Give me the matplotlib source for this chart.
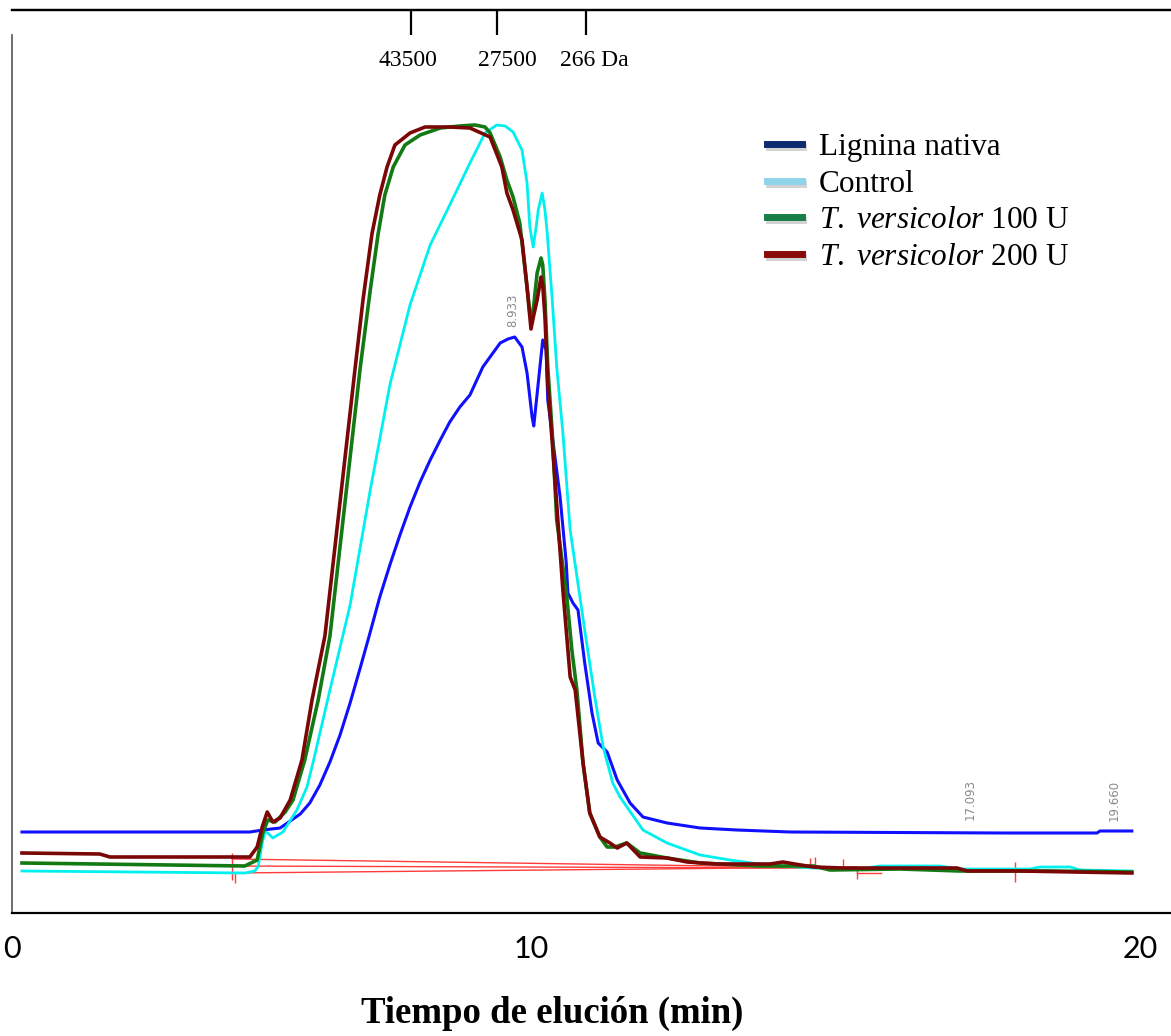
import matplotlib
matplotlib.use("Agg")
import matplotlib.pyplot as plt
from matplotlib import font_manager
from matplotlib.lines import Line2D
import matplotlib.patheffects as pe

# ---------------- data (time in min, detector signal in a.u.) ----------------
t_nativa = [0.16, 4.23, 4.46, 4.77, 4.95, 5.13, 5.30, 5.48, 5.66, 5.84, 6.02, 6.20, 6.38, 6.55,
            6.73, 6.91, 7.09, 7.27, 7.45, 7.63, 7.80, 7.98, 8.16, 8.39, 8.70, 8.84, 8.96, 9.09,
            9.18, 9.27, 9.30, 9.38, 9.46, 9.52, 9.55, 9.64, 9.77, 9.88, 9.91, 10.00, 10.09, 10.21,
            10.34, 10.45, 10.61, 10.79, 11.02, 11.25, 11.68, 12.27, 12.93, 13.88, 17.68, 19.36,
            19.41, 19.98]
y_nativa = [81, 81, 83, 85, 92, 99, 110, 128, 151, 178, 210, 245, 281, 316, 348, 378, 406, 431,
            453, 473, 491, 506, 518, 546, 570, 574, 576, 566, 540, 496, 487, 530, 573, 563, 513,
            473, 416, 350, 320, 310, 303, 250, 200, 170, 161, 133, 110, 96, 90, 85, 83, 81, 80,
            80, 82, 82]

t_control = [0.16, 4.14, 4.32, 4.38, 4.45, 4.50, 4.55, 4.64, 4.82, 5.07, 5.25, 5.36, 5.66, 6.02,
             6.38, 6.73, 7.09, 7.45, 7.80, 8.16, 8.43, 8.64, 8.79, 8.93, 9.09, 9.18, 9.23, 9.29,
             9.34, 9.38, 9.45, 9.50, 9.54, 9.63, 9.71, 9.82, 9.95, 10.21, 10.39, 10.54, 10.71,
             10.84, 11.25, 11.68, 12.27, 12.80, 13.46, 14.29, 15.13, 15.48, 16.55, 16.91, 18.16,
             18.34, 18.88, 19.05, 19.98]
y_control = [42, 40, 42, 47, 70, 81, 80, 75, 81, 103, 126, 151, 223, 308, 423, 528, 608, 668,
             708, 750, 780, 788, 787, 781, 763, 730, 686, 666, 685, 703, 720, 703, 680, 613, 546,
             480, 383, 283, 216, 166, 130, 116, 83, 70, 58, 53, 48, 45, 44, 47, 47, 44, 44, 46,
             46, 43, 42]

t_tv100 = [0.16, 4.14, 4.36, 4.46, 4.55, 4.68, 4.86, 5.00, 5.21, 5.45, 5.66, 5.93, 6.20, 6.38,
           6.52, 6.64, 6.79, 7.00, 7.27, 7.63, 7.98, 8.25, 8.43, 8.52, 8.70, 8.82, 8.93, 9.05,
           9.14, 9.23, 9.27, 9.30, 9.36, 9.43, 9.46, 9.50, 9.55, 9.63, 9.71, 9.89, 9.98, 10.07,
           10.18, 10.30, 10.48, 10.61, 10.75, 10.96, 11.20, 11.68, 12.27, 13.34, 14.29, 14.59,
           15.84, 16.91, 17.63, 18.52, 19.98]
y_tv100 = [50, 47, 53, 80, 93, 91, 101, 113, 153, 213, 277, 411, 545, 623, 679, 718, 746, 768,
           778, 785, 787, 788, 786, 780, 756, 733, 716, 690, 646, 600, 595, 608, 640, 655, 648,
           613, 546, 480, 393, 316, 263, 223, 150, 100, 76, 66, 66, 70, 60, 55, 50, 47, 47, 43,
           44, 42, 42, 42, 41]

t_tv200 = [0.16, 1.55, 1.73, 4.23, 4.36, 4.45, 4.54, 4.64, 4.77, 4.95, 5.16, 5.34, 5.57, 5.84,
           6.11, 6.25, 6.41, 6.55, 6.68, 6.82, 7.09, 7.36, 7.80, 8.16, 8.52, 8.73, 8.82, 8.93,
           9.09, 9.18, 9.25, 9.30, 9.36, 9.43, 9.46, 9.50, 9.55, 9.64, 9.82, 9.95, 10.04, 10.18,
           10.30, 10.48, 10.66, 10.79, 10.96, 11.20, 11.68, 12.04, 12.57, 13.52, 13.75, 13.96,
           14.29, 14.82, 16.86, 17.04, 17.98, 19.98]
y_tv200 = [60, 59, 56, 56, 66, 86, 101, 91, 95, 113, 153, 213, 277, 411, 545, 613, 679, 718,
           746, 768, 780, 786, 786, 785, 776, 746, 720, 703, 673, 626, 584, 598, 613, 636, 628,
           596, 530, 463, 323, 236, 223, 150, 100, 76, 70, 65, 70, 56, 55, 51, 49, 49, 51, 49,
           46, 45, 45, 42, 42, 40]

# integration baselines (start/end) and event marks (time, low, high)
baseline_t = [[3.91, 19.98], [3.93, 14.23], [3.96, 15.07], [15.07, 15.50]]
baseline_y = [[54, 41], [47, 45], [40, 46], [40, 40]]
event_t = [3.91, 3.96, 14.23, 14.32, 14.82, 15.07, 17.89]
event_lo = [33, 30, 46, 46, 44, 34, 31]
event_hi = [60, 40, 55, 56, 54, 43, 51]

# retention-time annotations
rt_labels = ["8.933", "17.093", "19.660"]
rt_t = [8.933, 17.093, 19.660]
rt_y = [603, 113, 113]

# molecular-weight marks (top axis)
mw_t = [7.11, 8.64, 10.23]
mw_label_t = [7.05, 8.82, 10.38]
mw_labels = ["43500", "27500", "266 Da"]

# bottom axis labels
xtick_pos = [-0.018, 9.25, 20.13]
xtick_labels = ["0", "10", "20"]

series_labels = ["Lignina nativa", "Control",
                 r"$\mathit{T.\ versicolor}$ 100 U", r"$\mathit{T.\ versicolor}$ 200 U"]
line_colors = ["#1010ff", "#00f0f0", "#137a13", "#7a0606"]
legend_colors = ["#0d2a6e", "#8fd3ea", "#17804a", "#8a0a0a"]

# ---------------- fonts ----------------
avail = {f.name for f in font_manager.fontManager.ttflist}
serif = "Liberation Serif"
tickfont = "Liberation Sans Narrow" if "Liberation Sans Narrow" in avail else "Lato"
plt.rcParams["mathtext.fontset"] = "custom"
plt.rcParams["mathtext.rm"] = serif
plt.rcParams["mathtext.it"] = serif + ":italic"

fig = plt.figure(figsize=(11.71, 10.36), dpi=100)
ax = fig.add_axes([12 / 1171, (1036 - 913) / 1036, 1159 / 1171, (913 - 10) / 1036])
ax.set_xlim(-0.018, 20.68)
ax.set_ylim(0, 903)

# baselines
for bt, by in zip(baseline_t, baseline_y):
    ax.plot(bt, by, color="#ff3b3b", lw=1.0, zorder=2)
ax.vlines(event_t, event_lo, event_hi, color="#ff3b3b", lw=1.0, zorder=2)

# chromatograms
ax.plot(t_nativa, y_nativa, color=line_colors[0], lw=2.2, zorder=3)
ax.plot(t_tv100, y_tv100, color=line_colors[2], lw=2.6, zorder=4)
ax.plot(t_tv200, y_tv200, color=line_colors[3], lw=2.6, zorder=5)
ax.plot(t_control, y_control, color=line_colors[1], lw=2.0, zorder=3.5)

for lab, tx, ty in zip(rt_labels, rt_t, rt_y):
    ax.text(tx, ty, lab, rotation=90, ha="center", va="center", fontsize=8.5,
            color="#8a8a8a", family="DejaVu Sans")

# spines
ax.spines["right"].set_visible(False)
ax.spines["top"].set_linewidth(1.6)
ax.spines["bottom"].set_linewidth(1.6)
ax.spines["left"].set_linewidth(1.2)
ax.spines["left"].set_color("#555555")
ax.spines["left"].set_bounds(0, 878)

ax.set_yticks([])
ax.set_xticks(xtick_pos, xtick_labels)
ax.tick_params(axis="x", length=0, pad=16, labelsize=22)
for lbl in ax.get_xticklabels():
    lbl.set_family(tickfont)

sec = ax.secondary_xaxis("top")
sec.set_xticks(mw_t)
sec.tick_params(direction="in", length=18, width=1.6, labeltop=False)
sec.spines["top"].set_linewidth(1.6)
for tx, lab in zip(mw_label_t, mw_labels):
    ax.text(tx, 852, lab, ha="center", va="center", fontsize=17, family=serif)

# legend
handles = []
for c in legend_colors:
    h = Line2D([], [], color=c, lw=5,
               path_effects=[pe.SimpleLineShadow(offset=(1, -2), shadow_color="gray", alpha=0.35),
                             pe.Normal()])
    handles.append(h)
leg = fig.legend(handles, series_labels, loc="upper left",
                 bbox_to_anchor=(758 / 1171, 1 - 124 / 1036), frameon=False,
                 prop={"family": serif, "size": 22.5}, handlelength=1.1, handletextpad=0.55,
                 labelspacing=0.24, borderaxespad=0, borderpad=0.3)

fig.text(552 / 1171, 1 - 1013 / 1036, "Tiempo de elución (min)", ha="center", va="center",
         fontsize=26.5, fontweight="bold", family=serif)

fig.savefig("out.png", dpi=100)
